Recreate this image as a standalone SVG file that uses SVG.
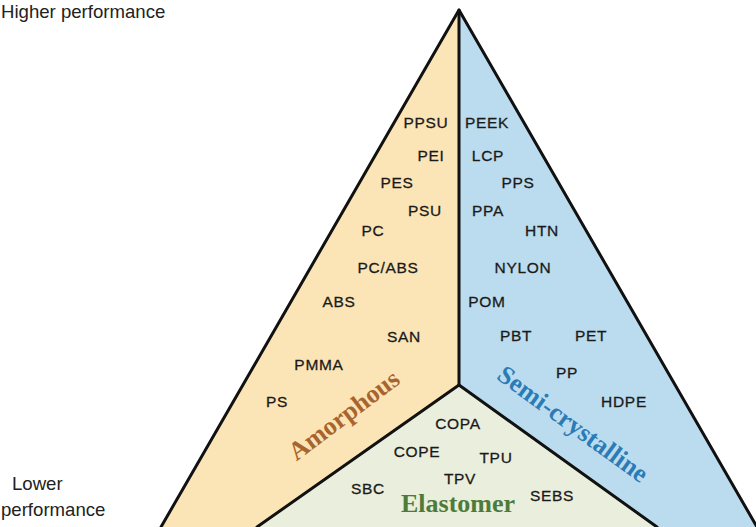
<svg xmlns="http://www.w3.org/2000/svg" width="756" height="527" viewBox="0 0 756 527">
<style>
.side{font-family:"Liberation Sans",Arial,sans-serif;font-size:18.6px;fill:#222}
.p{font-family:"Liberation Sans",Arial,sans-serif;font-size:15.5px;fill:#1a1a1a;stroke:#1a1a1a;stroke-width:0.3;text-anchor:middle;letter-spacing:0.7px}
.cat{font-family:"Liberation Serif","Times New Roman",serif;font-size:26px;font-weight:bold;text-anchor:middle}
.edge{stroke:#111;stroke-width:3;fill:none;stroke-linecap:round;stroke-linejoin:round}
</style>
<rect width="756" height="527" fill="#ffffff"/>
<text class="side" x="1" y="18">Higher performance</text>
<text class="side" x="12" y="490">Lower</text>
<text class="side" x="1" y="516">performance</text>
<g id="amorphous">
<polygon points="459,10 459,385 257,527 161,527" fill="#FBE5B6"/>
<text class="p" x="426" y="128">PPSU</text>
<text class="p" x="431" y="161">PEI</text>
<text class="p" x="397" y="188">PES</text>
<text class="p" x="425" y="216">PSU</text>
<text class="p" x="373" y="236">PC</text>
<text class="p" x="388" y="273">PC/ABS</text>
<text class="p" x="339" y="307">ABS</text>
<text class="p" x="404" y="342">SAN</text>
<text class="p" x="319" y="370">PMMA</text>
<text class="p" x="277" y="407">PS</text>
<text class="cat" fill="#A8642E" transform="translate(349,422) rotate(-37)">Amorphous</text>
</g>
<g id="semi-crystalline">
<polygon points="459,10 757,527 657,527 459,385" fill="#BBDCEE"/>
<text class="p" x="487" y="128">PEEK</text>
<text class="p" x="488" y="161">LCP</text>
<text class="p" x="518" y="188">PPS</text>
<text class="p" x="488" y="216">PPA</text>
<text class="p" x="542" y="236">HTN</text>
<text class="p" x="523" y="273">NYLON</text>
<text class="p" x="487" y="307">POM</text>
<text class="p" x="516" y="341">PBT</text>
<text class="p" x="591" y="341">PET</text>
<text class="p" x="567" y="378">PP</text>
<text class="p" x="624" y="407">HDPE</text>
<text class="cat" fill="#2B7BB7" transform="translate(568,431) rotate(36)">Semi-crystalline</text>
</g>
<g id="elastomer">
<polygon points="459,385 657,527 257,527" fill="#EAEEDC"/>
<text class="p" x="458" y="429">COPA</text>
<text class="p" x="417" y="457">COPE</text>
<text class="p" x="496" y="463">TPU</text>
<text class="p" x="460" y="484">TPV</text>
<text class="p" x="368" y="494">SBC</text>
<text class="p" x="552" y="501">SEBS</text>
<text class="cat" fill="#4F7B3A" x="458" y="512">Elastomer</text>
</g>
<g id="connectors">
<polyline class="edge" points="161,527 459,10 757,527"/>
<line class="edge" x1="459" y1="10" x2="459" y2="385"/>
<polyline class="edge" points="257,527 459,385 657,527"/>
</g>
</svg>
